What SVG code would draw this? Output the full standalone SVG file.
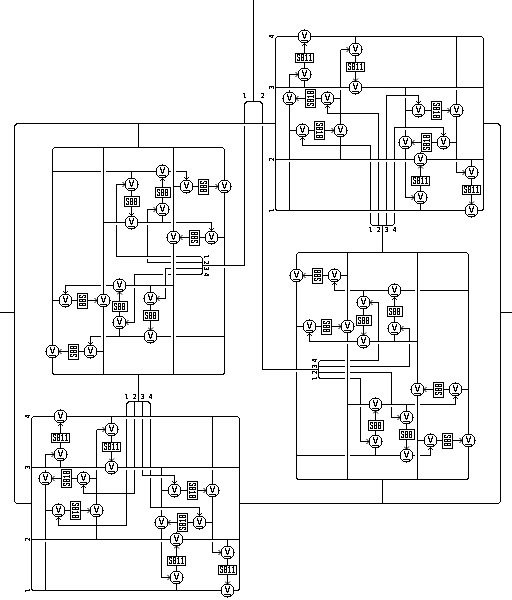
<svg xmlns="http://www.w3.org/2000/svg" width="512" height="600" viewBox="0 0 512 600">
<style>
.l{fill:none;stroke:#000;stroke-width:1;shape-rendering:crispEdges}
.a{fill:none;stroke:#000;stroke-width:1;shape-rendering:crispEdges;marker-end:url(#ah)}
.g{fill:none;stroke:#fff;stroke-width:1;shape-rendering:crispEdges}
.b{fill:#fff;stroke:#000;stroke-width:1;shape-rendering:crispEdges}
.c{fill:#fff;stroke:#000;stroke-width:1}
.v{font:8px "DejaVu Sans","Liberation Sans",sans-serif;text-anchor:middle;fill:#000}
.t{font:10px "Liberation Mono","Courier New",monospace;text-anchor:middle;fill:#000}
.n{font:7px "DejaVu Sans Mono","Liberation Mono",monospace;text-anchor:middle;fill:#000}
g[id^=b],#labels{filter:url(#bw)}
</style>
<defs>
<filter id="bw" x="-20%" y="-20%" width="140%" height="140%" color-interpolation-filters="sRGB"><feComponentTransfer><feFuncR type="discrete" tableValues="0 0 1"/><feFuncG type="discrete" tableValues="0 0 1"/><feFuncB type="discrete" tableValues="0 0 1"/><feFuncA type="discrete" tableValues="0 1 1"/></feComponentTransfer></filter>
<marker id="ah" viewBox="0 0 6 6" refX="5.5" refY="3" markerWidth="6" markerHeight="6" orient="auto" markerUnits="userSpaceOnUse"><path d="M3 .5L5.5 3L3 5.5" fill="none" stroke="#000" stroke-width="1"/></marker>
<g id="vb"><circle class="c" r="6.5"/><path class="l" d="M-3.5 4h7"/></g>
<rect id="h18" class="b" x="-9" y="-4.5" width="18" height="9"/>
<rect id="v18" class="b" x="-5" y="-9" width="10" height="18"/>
<rect id="h15" class="b" x="-7.5" y="-5" width="15" height="10"/>
<rect id="v15" class="b" x="-5" y="-7.5" width="10" height="15"/>
</defs>

<g id="connectors">
<!-- outer frame -->
<path class="l" d="M275.5 123.5H18.5Q14.5 123.5 14.5 127.5V499.5Q14.5 503.5 18.5 503.5H31.5"/>
<path class="l" d="M483.5 123.5H496.5Q500.5 123.5 500.5 127.5V499.5Q500.5 503.5 496.5 503.5H239.5"/>
<path class="l" d="M0 312.5H14.5M500.5 312.5H512M382.5 479.5V503.5M138.5 123.5V147.5M138.5 374.5V401.5M382.5 225.5V252.5"/>
<path class="l" d="M253.5 0V101.5M244.5 105.5Q244.5 101.5 248.5 101.5H258.5Q262.5 101.5 262.5 105.5"/>
<path class="l" d="M244.5 105.5V265.5H202.5M262.5 105.5V369.5H318.5"/>

<!-- block 1 -->
<rect class="l" x="275.5" y="36.5" width="208" height="174" rx="3"/>
<path class="l" d="M275.5 87.5H483.5M275.5 159.5H483.5"/>
<path class="l" d="M304.5 74.5V62M304.5 74.5V87.5M355.5 36.5V62M289.5 98.5V210.5M340.5 49.5V159.5M327.5 98.5H340.5M289.5 130.5H302.5M405.5 110.5H412M405.5 87.5V142.5M443.5 142.5H456.5M420.5 197.5V185M420.5 197.5V210.5M471.5 159.5V185M321 98.5H315.5M309 130.5H314.5M425 110.5H431.5M437 142.5H431.5"/>
<path class="a" d="M304.5 53V43.5"/><path class="a" d="M289.5 92V74.5H298"/><path class="a" d="M355.5 71V81"/><path class="a" d="M340.5 49.5H349"/>
<path class="a" d="M305.5 98.5H296"/><path class="a" d="M324.5 130.5H334"/><path class="a" d="M441.5 110.5H450"/><path class="a" d="M456.5 36.5V172.5H465"/>
<path class="a" d="M421.5 142.5H412"/><path class="a" d="M405.5 142.5V197.5H414"/><path class="a" d="M420.5 176V166"/><path class="a" d="M471.5 194V204"/>
<path class="l" d="M370.5 221.5Q370.5 225.5 374.5 225.5H390.5Q394.5 225.5 394.5 221.5"/>
<path class="a" d="M370.5 221.5V145.5H302.5V137.5"/><path class="a" d="M378.5 225.5V113.5H327.5V105.5"/><path class="a" d="M386.5 225.5V95.5H418.5V103.5"/><path class="a" d="M394.5 221.5V127.5H443.5V135.5"/>
<path class="g" d="M456.5 88v2M289.5 88v2M340.5 88v2M456.5 160v2M289.5 160v2M405.5 160v2M370.5 160v2M378.5 160v2M386.5 160v2M394.5 160v2M370.5 211v2M378.5 211v2M386.5 211v2M394.5 211v2M405.5 96v2M405.5 128v2M244.5 124v2M262.5 124v2"/>

<!-- block 4 -->
<rect class="l" x="31.5" y="416.5" width="208" height="174" rx="3"/>
<path class="l" d="M31.5 467.5H239.5M31.5 539.5H239.5"/>
<path class="l" d="M60.5 454.5V442M60.5 454.5V467.5M111.5 416.5V442M45.5 478.5V590.5M96.5 429.5V539.5M83.5 478.5H96.5M45.5 510.5H58.5M161.5 490.5H168M161.5 467.5V522.5M199.5 522.5H212.5M176.5 577.5V565M176.5 577.5V590.5M227.5 539.5V565M77 478.5H71.5M65 510.5H70.5M181 490.5H187.5M193 522.5H187.5"/>
<path class="a" d="M60.5 433V423.5"/><path class="a" d="M45.5 472V454.5H54"/><path class="a" d="M111.5 451V461"/><path class="a" d="M96.5 429.5H105"/>
<path class="a" d="M61.5 478.5H52"/><path class="a" d="M80.5 510.5H90"/><path class="a" d="M197.5 490.5H206"/><path class="a" d="M212.5 416.5V552.5H221"/>
<path class="a" d="M177.5 522.5H168"/><path class="a" d="M161.5 522.5V577.5H170"/><path class="a" d="M176.5 556V546"/><path class="a" d="M227.5 574V584"/>
<path class="l" d="M126.5 405.5Q126.5 401.5 130.5 401.5H146.5Q150.5 401.5 150.5 405.5"/>
<path class="a" d="M126.5 405.5V525.5H58.5V517.5"/><path class="a" d="M134.5 401.5V493.5H83.5V485.5"/><path class="a" d="M142.5 401.5V475.5H174.5V483.5"/><path class="a" d="M150.5 405.5V507.5H199.5V515.5"/>
<path class="g" d="M212.5 468v2M45.5 468v2M96.5 468v2M212.5 540v2M45.5 540v2M161.5 540v2M126.5 417v2M134.5 417v2M142.5 417v2M150.5 417v2M126.5 468v2M134.5 468v2M142.5 468v2M150.5 468v2M161.5 476v2M161.5 508v2M150.5 476v2"/>

<!-- block 2 -->
<rect class="l" x="52.5" y="147.5" width="172" height="227" rx="3"/>
<path class="l" d="M103.5 147.5V374.5M173.5 147.5V374.5"/>
<path class="l" d="M131.5 171.5V197M162.5 222.5V197.5M173.5 186.5H186.5M193 186.5H198.5M211.5 237.5H224.5M205 237.5H199.5M119.5 336.5V311.5M52.5 300.5H65.5M72 300.5H77.5M150.5 285.5V310M90.5 351.5H103.5M84 351.5H78.5"/>
<path class="a" d="M52.5 171.5H186.5V179.5"/><path class="a" d="M103.5 222.5H211.5V230.5"/><path class="a" d="M173.5 285.5H65.5V293.5"/><path class="a" d="M224.5 336.5H90.5V344.5"/>
<path class="a" d="M131.5 206.5V215.5"/><path class="a" d="M162.5 188V178.5"/><path class="a" d="M208.5 186.5H218"/><path class="a" d="M189.5 237.5H180"/><path class="a" d="M119.5 301.5V292"/><path class="a" d="M87.5 300.5H97"/><path class="a" d="M150.5 320.5V330"/><path class="a" d="M68.5 351.5H59"/>
<path class="l" d="M199.5 256.5Q202.5 256.5 202.5 259.5V271.5Q202.5 274.5 199.5 274.5"/>
<path class="a" d="M199.5 256.5H116.5V184.5H125"/><path class="a" d="M202.5 262.5H147.5V209.5H156"/><path class="a" d="M202.5 268.5H165.5V298.5H157"/><path class="a" d="M199.5 274.5H134.5V322.5H126"/>
<path class="g" d="M101 171.5h2M104 171.5h2M171 171.5h2M174 171.5h2M171 222.5h2M174 222.5h2M171 256.5h2M174 256.5h2M171 262.5h2M174 262.5h2M171 268.5h2M174 268.5h2M171 274.5h2M174 274.5h2M101 285.5h2M104 285.5h2M101 336.5h2M104 336.5h2M171 336.5h2M174 336.5h2M163 274.5h2M166 274.5h2M116.5 223v2M147.5 223v2M147.5 257v2M165.5 286v2M134.5 286v2M224.5 266v2"/>

<!-- block 3 -->
<rect class="l" x="296.5" y="252.5" width="172" height="227" rx="3"/>
<path class="l" d="M347.5 252.5V479.5M417.5 252.5V479.5"/>
<path class="l" d="M334.5 275.5H347.5M328 275.5H322.5M363.5 290.5V315M394.5 341.5V316.5M296.5 326.5H309.5M316 326.5H321.5M455.5 389.5H468.5M449 389.5H443.5M375.5 455.5V430.5M406.5 404.5V429.5M417.5 440.5H430.5M437 440.5H442.5"/>
<path class="a" d="M468.5 290.5H334.5V282.5"/><path class="a" d="M417.5 341.5H309.5V333.5"/><path class="a" d="M347.5 404.5H455.5V396.5"/><path class="a" d="M296.5 455.5H430.5V447.5"/>
<path class="a" d="M312.5 275.5H303"/><path class="a" d="M331.5 326.5H341"/><path class="a" d="M363.5 325.5V335"/><path class="a" d="M394.5 306.5V297.5"/><path class="a" d="M433.5 389.5H424"/><path class="a" d="M375.5 420.5V411"/><path class="a" d="M406.5 439V449"/><path class="a" d="M452.5 440.5H462"/>
<path class="l" d="M321.5 360.5Q318.5 360.5 318.5 363.5V375.5Q318.5 378.5 321.5 378.5"/>
<path class="a" d="M321.5 360.5H378.5V302.5H370"/><path class="a" d="M318.5 366.5H409.5V328.5H401"/><path class="a" d="M318.5 372.5H391.5V417.5H400"/><path class="a" d="M321.5 378.5H360.5V441.5H369"/>
<path class="g" d="M345 360.5h2M348 360.5h2M345 366.5h2M348 366.5h2M345 372.5h2M348 372.5h2M345 378.5h2M348 378.5h2M415 290.5h2M418 290.5h2M345 290.5h2M348 290.5h2M415 404.5h2M418 404.5h2M345 455.5h2M348 455.5h2M415 455.5h2M418 455.5h2M347.5 342v2M378.5 342v2M409.5 342v2M360.5 405v2M391.5 405v2M296.5 370v2"/>
</g>

<g id="labels">
<text class="n" x="244.5" y="98">1</text><text class="n" x="262.5" y="98">2</text>
<text class="n" x="370.5" y="232">1</text><text class="n" x="378.5" y="232">2</text><text class="n" x="386.5" y="232">3</text><text class="n" x="394.5" y="232">4</text>
<text class="n" x="126.5" y="399">1</text><text class="n" x="134.5" y="399">2</text><text class="n" x="142.5" y="399">3</text><text class="n" x="150.5" y="399">4</text>
<text class="n" transform="translate(274 36.5) rotate(-90)">4</text><text class="n" transform="translate(274 87.5) rotate(-90)">3</text><text class="n" transform="translate(274 159.5) rotate(-90)">2</text><text class="n" transform="translate(274 210.5) rotate(-90)">1</text>
<text class="n" transform="translate(30 416.5) rotate(-90)">4</text><text class="n" transform="translate(30 467.5) rotate(-90)">3</text><text class="n" transform="translate(30 539.5) rotate(-90)">2</text><text class="n" transform="translate(30 590.5) rotate(-90)">1</text>
<text class="n" transform="translate(204 256.5) rotate(90)">1</text><text class="n" transform="translate(204 262.5) rotate(90)">2</text><text class="n" transform="translate(204 268.5) rotate(90)">3</text><text class="n" transform="translate(204 274.5) rotate(90)">4</text>
<text class="n" transform="translate(317 360.5) rotate(-90)">4</text><text class="n" transform="translate(317 366.5) rotate(-90)">3</text><text class="n" transform="translate(317 372.5) rotate(-90)">2</text><text class="n" transform="translate(317 378.5) rotate(-90)">1</text>
</g>

<g id="b1v1" transform="translate(304.5 36.5)"><use href="#vb"/><text class="v" y="2">V</text></g>
<g id="b1v2" transform="translate(304.5 74.5)"><use href="#vb"/><text class="v" y="2">V</text></g>
<g id="b1s1" transform="translate(304.5 57.5)"><use href="#h18"/><text class="t" y="3.5" textLength="16" lengthAdjust="spacingAndGlyphs">SB11</text></g>
<g id="b1v3" transform="translate(355.5 49.5)"><use href="#vb"/><text class="v" y="2">V</text></g>
<g id="b1s2" transform="translate(355.5 66.5)"><use href="#h18"/><text class="t" y="3.5" textLength="16" lengthAdjust="spacingAndGlyphs">SB11</text></g>
<g id="b1v4" transform="translate(355.5 87.5)"><use href="#vb"/><text class="v" y="2">V</text></g>
<g id="b1v5" transform="translate(289.5 98.5)"><use href="#vb"/><text class="v" y="2">V</text></g>
<g id="b1s3" transform="translate(310.5 98.5)"><use href="#v18"/><text class="t" transform="rotate(-90)" y="3.5" textLength="16" lengthAdjust="spacingAndGlyphs">SB10</text></g>
<g id="b1v6" transform="translate(327.5 98.5)"><use href="#vb"/><text class="v" y="2">V</text></g>
<g id="b1v7" transform="translate(302.5 130.5)"><use href="#vb"/><text class="v" y="2">V</text></g>
<g id="b1s4" transform="translate(319.5 130.5)"><use href="#v18"/><text class="t" transform="rotate(90)" y="3.5" textLength="16" lengthAdjust="spacingAndGlyphs">SB10</text></g>
<g id="b1v8" transform="translate(340.5 130.5)"><use href="#vb"/><text class="v" y="2">V</text></g>
<g id="b1v9" transform="translate(418.5 110.5)"><use href="#vb"/><text class="v" y="2">V</text></g>
<g id="b1s5" transform="translate(436.5 110.5)"><use href="#v18"/><text class="t" transform="rotate(90)" y="3.5" textLength="16" lengthAdjust="spacingAndGlyphs">SB10</text></g>
<g id="b1v10" transform="translate(456.5 110.5)"><use href="#vb"/><text class="v" y="2">V</text></g>
<g id="b1v11" transform="translate(443.5 142.5)"><use href="#vb"/><text class="v" y="2">V</text></g>
<g id="b1s6" transform="translate(426.5 142.5)"><use href="#v18"/><text class="t" transform="rotate(-90)" y="3.5" textLength="16" lengthAdjust="spacingAndGlyphs">SB10</text></g>
<g id="b1v12" transform="translate(405.5 142.5)"><use href="#vb"/><text class="v" y="2">V</text></g>
<g id="b1v13" transform="translate(420.5 159.5)"><use href="#vb"/><text class="v" y="2">V</text></g>
<g id="b1s7" transform="translate(420.5 180.5)"><use href="#h18"/><text class="t" y="3.5" textLength="16" lengthAdjust="spacingAndGlyphs">SB11</text></g>
<g id="b1v14" transform="translate(420.5 197.5)"><use href="#vb"/><text class="v" y="2">V</text></g>
<g id="b1v15" transform="translate(471.5 172.5)"><use href="#vb"/><text class="v" y="2">V</text></g>
<g id="b1s8" transform="translate(471.5 189.5)"><use href="#h18"/><text class="t" y="3.5" textLength="16" lengthAdjust="spacingAndGlyphs">SB11</text></g>
<g id="b1v16" transform="translate(471.5 210.5)"><use href="#vb"/><text class="v" y="2">V</text></g>

<g id="b4v1" transform="translate(60.5 416.5)"><use href="#vb"/><text class="v" y="2">V</text></g>
<g id="b4v2" transform="translate(60.5 454.5)"><use href="#vb"/><text class="v" y="2">V</text></g>
<g id="b4s1" transform="translate(60.5 437.5)"><use href="#h18"/><text class="t" y="3.5" textLength="16" lengthAdjust="spacingAndGlyphs">SB11</text></g>
<g id="b4v3" transform="translate(111.5 429.5)"><use href="#vb"/><text class="v" y="2">V</text></g>
<g id="b4s2" transform="translate(111.5 446.5)"><use href="#h18"/><text class="t" y="3.5" textLength="16" lengthAdjust="spacingAndGlyphs">SB11</text></g>
<g id="b4v4" transform="translate(111.5 467.5)"><use href="#vb"/><text class="v" y="2">V</text></g>
<g id="b4v5" transform="translate(45.5 478.5)"><use href="#vb"/><text class="v" y="2">V</text></g>
<g id="b4s3" transform="translate(66.5 478.5)"><use href="#v18"/><text class="t" transform="rotate(-90)" y="3.5" textLength="16" lengthAdjust="spacingAndGlyphs">SB10</text></g>
<g id="b4v6" transform="translate(83.5 478.5)"><use href="#vb"/><text class="v" y="2">V</text></g>
<g id="b4v7" transform="translate(58.5 510.5)"><use href="#vb"/><text class="v" y="2">V</text></g>
<g id="b4s4" transform="translate(75.5 510.5)"><use href="#v18"/><text class="t" transform="rotate(90)" y="3.5" textLength="16" lengthAdjust="spacingAndGlyphs">SB10</text></g>
<g id="b4v8" transform="translate(96.5 510.5)"><use href="#vb"/><text class="v" y="2">V</text></g>
<g id="b4v9" transform="translate(174.5 490.5)"><use href="#vb"/><text class="v" y="2">V</text></g>
<g id="b4s5" transform="translate(192.5 490.5)"><use href="#v18"/><text class="t" transform="rotate(90)" y="3.5" textLength="16" lengthAdjust="spacingAndGlyphs">SB10</text></g>
<g id="b4v10" transform="translate(212.5 490.5)"><use href="#vb"/><text class="v" y="2">V</text></g>
<g id="b4v11" transform="translate(199.5 522.5)"><use href="#vb"/><text class="v" y="2">V</text></g>
<g id="b4s6" transform="translate(182.5 522.5)"><use href="#v18"/><text class="t" transform="rotate(-90)" y="3.5" textLength="16" lengthAdjust="spacingAndGlyphs">SB10</text></g>
<g id="b4v12" transform="translate(161.5 522.5)"><use href="#vb"/><text class="v" y="2">V</text></g>
<g id="b4v13" transform="translate(176.5 539.5)"><use href="#vb"/><text class="v" y="2">V</text></g>
<g id="b4s7" transform="translate(176.5 560.5)"><use href="#h18"/><text class="t" y="3.5" textLength="16" lengthAdjust="spacingAndGlyphs">SB11</text></g>
<g id="b4v14" transform="translate(176.5 577.5)"><use href="#vb"/><text class="v" y="2">V</text></g>
<g id="b4v15" transform="translate(227.5 552.5)"><use href="#vb"/><text class="v" y="2">V</text></g>
<g id="b4s8" transform="translate(227.5 569.5)"><use href="#h18"/><text class="t" y="3.5" textLength="16" lengthAdjust="spacingAndGlyphs">SB11</text></g>
<g id="b4v16" transform="translate(227.5 590.5)"><use href="#vb"/><text class="v" y="2">V</text></g>

<g id="b2v1" transform="translate(131.5 184.5)"><use href="#vb"/><text class="v" y="2">V</text></g>
<g id="b2s1" transform="translate(131.5 201.5)"><use href="#h15"/><text class="t" y="3.5" textLength="12" lengthAdjust="spacingAndGlyphs">SB8</text></g>
<g id="b2v2" transform="translate(131.5 222.5)"><use href="#vb"/><text class="v" y="2">V</text></g>
<g id="b2v3" transform="translate(162.5 171.5)"><use href="#vb"/><text class="v" y="2">V</text></g>
<g id="b2s2" transform="translate(162.5 192.5)"><use href="#h15"/><text class="t" y="3.5" textLength="12" lengthAdjust="spacingAndGlyphs">SB8</text></g>
<g id="b2v4" transform="translate(162.5 209.5)"><use href="#vb"/><text class="v" y="2">V</text></g>
<g id="b2v5" transform="translate(186.5 186.5)"><use href="#vb"/><text class="v" y="2">V</text></g>
<g id="b2s3" transform="translate(203.5 186.5)"><use href="#v15"/><text class="t" transform="rotate(90)" y="3.5" textLength="12" lengthAdjust="spacingAndGlyphs">SB8</text></g>
<g id="b2v6" transform="translate(224.5 186.5)"><use href="#vb"/><text class="v" y="2">V</text></g>
<g id="b2v7" transform="translate(211.5 237.5)"><use href="#vb"/><text class="v" y="2">V</text></g>
<g id="b2s4" transform="translate(194.5 237.5)"><use href="#v15"/><text class="t" transform="rotate(-90)" y="3.5" textLength="12" lengthAdjust="spacingAndGlyphs">SB8</text></g>
<g id="b2v8" transform="translate(173.5 237.5)"><use href="#vb"/><text class="v" y="2">V</text></g>
<g id="b2v9" transform="translate(119.5 285.5)"><use href="#vb"/><text class="v" y="2">V</text></g>
<g id="b2s5" transform="translate(119.5 306.5)"><use href="#h15"/><text class="t" y="3.5" textLength="12" lengthAdjust="spacingAndGlyphs">SB8</text></g>
<g id="b2v10" transform="translate(119.5 322.5)"><use href="#vb"/><text class="v" y="2">V</text></g>
<g id="b2v11" transform="translate(65.5 300.5)"><use href="#vb"/><text class="v" y="2">V</text></g>
<g id="b2s6" transform="translate(82.5 300.5)"><use href="#v15"/><text class="t" transform="rotate(90)" y="3.5" textLength="12" lengthAdjust="spacingAndGlyphs">SB8</text></g>
<g id="b2v12" transform="translate(103.5 300.5)"><use href="#vb"/><text class="v" y="2">V</text></g>
<g id="b2v13" transform="translate(150.5 298.5)"><use href="#vb"/><text class="v" y="2">V</text></g>
<g id="b2s7" transform="translate(150.5 315.5)"><use href="#h15"/><text class="t" y="3.5" textLength="12" lengthAdjust="spacingAndGlyphs">SB8</text></g>
<g id="b2v14" transform="translate(150.5 336.5)"><use href="#vb"/><text class="v" y="2">V</text></g>
<g id="b2v15" transform="translate(90.5 351.5)"><use href="#vb"/><text class="v" y="2">V</text></g>
<g id="b2s8" transform="translate(73.5 351.5)"><use href="#v15"/><text class="t" transform="rotate(-90)" y="3.5" textLength="12" lengthAdjust="spacingAndGlyphs">SB8</text></g>
<g id="b2v16" transform="translate(52.5 351.5)"><use href="#vb"/><text class="v" y="2">V</text></g>

<g id="b3v1" transform="translate(296.5 275.5)"><use href="#vb"/><text class="v" y="2">V</text></g>
<g id="b3s1" transform="translate(317.5 275.5)"><use href="#v15"/><text class="t" transform="rotate(-90)" y="3.5" textLength="12" lengthAdjust="spacingAndGlyphs">SB8</text></g>
<g id="b3v2" transform="translate(334.5 275.5)"><use href="#vb"/><text class="v" y="2">V</text></g>
<g id="b3v3" transform="translate(394.5 290.5)"><use href="#vb"/><text class="v" y="2">V</text></g>
<g id="b3s2" transform="translate(394.5 311.5)"><use href="#h15"/><text class="t" y="3.5" textLength="12" lengthAdjust="spacingAndGlyphs">SB8</text></g>
<g id="b3v4" transform="translate(394.5 328.5)"><use href="#vb"/><text class="v" y="2">V</text></g>
<g id="b3v5" transform="translate(363.5 302.5)"><use href="#vb"/><text class="v" y="2">V</text></g>
<g id="b3s3" transform="translate(363.5 320.5)"><use href="#h15"/><text class="t" y="3.5" textLength="12" lengthAdjust="spacingAndGlyphs">SB8</text></g>
<g id="b3v6" transform="translate(363.5 341.5)"><use href="#vb"/><text class="v" y="2">V</text></g>
<g id="b3v7" transform="translate(309.5 326.5)"><use href="#vb"/><text class="v" y="2">V</text></g>
<g id="b3s4" transform="translate(326.5 326.5)"><use href="#v15"/><text class="t" transform="rotate(90)" y="3.5" textLength="12" lengthAdjust="spacingAndGlyphs">SB8</text></g>
<g id="b3v8" transform="translate(347.5 326.5)"><use href="#vb"/><text class="v" y="2">V</text></g>
<g id="b3v9" transform="translate(455.5 389.5)"><use href="#vb"/><text class="v" y="2">V</text></g>
<g id="b3s5" transform="translate(438.5 389.5)"><use href="#v15"/><text class="t" transform="rotate(-90)" y="3.5" textLength="12" lengthAdjust="spacingAndGlyphs">SB8</text></g>
<g id="b3v10" transform="translate(417.5 389.5)"><use href="#vb"/><text class="v" y="2">V</text></g>
<g id="b3v11" transform="translate(375.5 404.5)"><use href="#vb"/><text class="v" y="2">V</text></g>
<g id="b3s6" transform="translate(375.5 425.5)"><use href="#h15"/><text class="t" y="3.5" textLength="12" lengthAdjust="spacingAndGlyphs">SB8</text></g>
<g id="b3v12" transform="translate(375.5 441.5)"><use href="#vb"/><text class="v" y="2">V</text></g>
<g id="b3v13" transform="translate(406.5 417.5)"><use href="#vb"/><text class="v" y="2">V</text></g>
<g id="b3s7" transform="translate(406.5 434.5)"><use href="#h15"/><text class="t" y="3.5" textLength="12" lengthAdjust="spacingAndGlyphs">SB8</text></g>
<g id="b3v14" transform="translate(406.5 455.5)"><use href="#vb"/><text class="v" y="2">V</text></g>
<g id="b3v15" transform="translate(430.5 440.5)"><use href="#vb"/><text class="v" y="2">V</text></g>
<g id="b3s8" transform="translate(447.5 440.5)"><use href="#v15"/><text class="t" transform="rotate(90)" y="3.5" textLength="12" lengthAdjust="spacingAndGlyphs">SB8</text></g>
<g id="b3v16" transform="translate(468.5 440.5)"><use href="#vb"/><text class="v" y="2">V</text></g>
</svg>
